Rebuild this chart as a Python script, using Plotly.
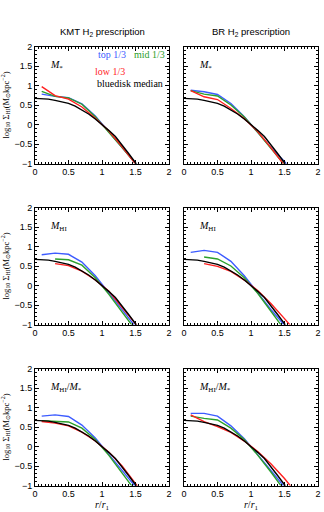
import plotly.graph_objects as go

# ---------------- data ----------------
col_titles = ["KMT H<sub>2</sub> prescription", "BR H<sub>2</sub> prescription"]
row_labels = ["<i>M</i><sub>*</sub>", "<i>M</i><sub>HI</sub>", "<i>M</i><sub>HI</sub>/<i>M</i><sub>*</sub>"]

x_ticks = [0, 0.5, 1, 1.5, 2]
y_ticks = [-1, -0.5, 0, 0.5, 1, 1.5, 2]

r_median = [0.0, 0.1, 0.2, 0.3, 0.4, 0.5, 0.6, 0.7, 0.8, 0.9, 1.0, 1.1, 1.2, 1.3, 1.4, 1.5, 1.6]
median = [0.67, 0.665, 0.65, 0.62, 0.585, 0.54, 0.47, 0.38, 0.27, 0.14, 0.0, -0.15, -0.31, -0.52, -0.75, -0.98, -1.22]

r_full = [0.1, 0.3, 0.5, 0.7, 0.9, 1.1, 1.3, 1.5, 1.7]
r_part = [0.3, 0.5, 0.7, 0.9, 1.1, 1.3, 1.5, 1.7]

# KMT, M*
kmt_ms_top = [0.78, 0.72, 0.69, 0.53, 0.22, -0.18, -0.58, -0.97, -1.4]
kmt_ms_mid = [0.85, 0.72, 0.68, 0.52, 0.20, -0.19, -0.59, -1.00, -1.4]
kmt_ms_low = [0.97, 0.74, 0.65, 0.45, 0.16, -0.16, -0.57, -1.03, -1.45]
# BR, M*
br_ms_top = [0.88, 0.84, 0.77, 0.54, 0.20, -0.20, -0.60, -0.95, -1.4]
br_ms_mid = [0.87, 0.78, 0.73, 0.50, 0.19, -0.20, -0.62, -1.05, -1.45]
br_ms_low = [0.87, 0.71, 0.64, 0.41, 0.15, -0.18, -0.60, -1.06, -1.5]
# KMT, MHI
kmt_hi_top = [0.79, 0.83, 0.80, 0.60, 0.25, -0.20, -0.62, -1.06, -1.5]
kmt_hi_mid = [0.68, 0.66, 0.52, 0.20, -0.22, -0.68, -1.15, -1.6]
kmt_hi_low = [0.56, 0.51, 0.37, 0.14, -0.14, -0.55, -0.97, -1.4]
# BR, MHI
br_hi_top = [0.85, 0.90, 0.85, 0.62, 0.25, -0.20, -0.62, -1.02, -1.45]
br_hi_mid = [0.73, 0.68, 0.50, 0.20, -0.20, -0.70, -1.15, -1.6]
br_hi_low = [0.56, 0.49, 0.36, 0.14, -0.13, -0.47, -0.85, -1.25]
# KMT, MHI/M*
kmt_rat_top = [0.78, 0.81, 0.77, 0.55, 0.22, -0.20, -0.60, -1.03, -1.45]
kmt_rat_mid = [0.66, 0.65, 0.63, 0.47, 0.18, -0.22, -0.68, -1.18, -1.6]
kmt_rat_low = [0.64, 0.60, 0.53, 0.37, 0.14, -0.14, -0.50, -0.95, -1.4]
# BR, MHI/M*
br_rat_top = [0.85, 0.85, 0.78, 0.53, 0.20, -0.20, -0.62, -1.04, -1.45]
br_rat_mid = [0.78, 0.72, 0.68, 0.47, 0.18, -0.22, -0.66, -1.14, -1.6]
br_rat_low = [0.81, 0.64, 0.51, 0.36, 0.14, -0.13, -0.45, -0.82, -1.25]

panels = [
    (r_full, kmt_ms_top, r_full, kmt_ms_mid, r_full, kmt_ms_low),
    (r_full, br_ms_top, r_full, br_ms_mid, r_full, br_ms_low),
    (r_full, kmt_hi_top, r_part, kmt_hi_mid, r_part, kmt_hi_low),
    (r_full, br_hi_top, r_part, br_hi_mid, r_part, br_hi_low),
    (r_full, kmt_rat_top, r_full, kmt_rat_mid, r_full, kmt_rat_low),
    (r_full, br_rat_top, r_full, br_rat_mid, r_full, br_rat_low),
]

# ---------------- styling ----------------
W, H = 324, 512
BLUE = "#3d5cff"
GREEN = "#2ca02c"
RED = "#ff1f1f"
SANS = "Liberation Sans, Arial, sans-serif"
SERIF = "Liberation Serif, Times New Roman, serif"

col_px = [(35, 169), (184, 318)]
row_px = [(46.5, 163.5), (207.5, 324.5), (368.5, 485.5)]

fig = go.Figure()
layout = dict(
    width=W, height=H, margin=dict(l=0, r=0, t=0, b=0),
    paper_bgcolor="white", plot_bgcolor="white", showlegend=False,
    font=dict(family=SANS, size=9, color="black"),
)
annotations = []

for i, (rt, yt, rm, ym, rl, yl) in enumerate(panels):
    row, col = divmod(i, 2)
    n = "" if i == 0 else str(i + 1)
    xa, ya = "x" + n, "y" + n
    x0, x1 = col_px[col]
    t, b = row_px[row]
    common = dict(
        showline=True, linecolor="black", linewidth=1, mirror="allticks",
        ticks="inside", ticklen=4, tickcolor="black", tickwidth=1,
        showgrid=False, zeroline=False, automargin=False,
        tickfont=dict(family=SANS, size=9, color="black"),
    )
    layout["xaxis" + n] = dict(
        common, domain=[x0 / W, x1 / W], range=[0, 2], anchor=ya,
        tickmode="array", tickvals=x_ticks, ticktext=[f"{v:g}" for v in x_ticks],
        minor=dict(ticks="inside", ticklen=2, dtick=0.05, tickcolor="black"),
        title=dict(text="<i>r</i>/<i>r</i><sub>1</sub>" if row == 2 else "",
                   font=dict(family=SERIF, size=10), standoff=2),
    )
    layout["yaxis" + n] = dict(
        common, domain=[1 - b / H, 1 - t / H], range=[-1, 2], anchor=xa,
        tickmode="array", tickvals=y_ticks,
        ticktext=[f"{v:g}".replace("-", "\u2212") for v in y_ticks],
        showticklabels=(col == 0),
        minor=dict(ticks="inside", ticklen=2, dtick=0.1, tickcolor="black"),
        title=dict(text="log<sub>10</sub> \u03a3<sub>HI</sub>(M<sub>\u2299</sub>kpc<sup>\u22122</sup>)" if col == 0 else "",
                   font=dict(family=SERIF, size=8.5), standoff=4),
    )
    for rr, yy, c in ((rt, yt, BLUE), (rm, ym, GREEN), (rl, yl, RED)):
        fig.add_trace(go.Scatter(x=rr, y=yy, mode="lines", xaxis=xa, yaxis=ya,
                                 line=dict(color=c, width=1.4), hoverinfo="skip"))
    fig.add_trace(go.Scatter(x=r_median, y=median, mode="lines", xaxis=xa, yaxis=ya,
                             line=dict(color="black", width=1.4), hoverinfo="skip"))
    annotations.append(dict(text=row_labels[row], x=0.2, y=1.52, xref=xa, yref=ya,
                            xanchor="left", yanchor="middle", showarrow=False,
                            font=dict(family=SERIF, size=10, color="black")))

# column titles
for col in range(2):
    x0, x1 = col_px[col]
    annotations.append(dict(text=col_titles[col], x=(x0 + x1) / 2 / W, y=1 - 32 / H,
                            xref="paper", yref="paper", xanchor="center", yanchor="middle",
                            showarrow=False, font=dict(family=SANS, size=9.5, color="black")))

# legend text in first panel
legend_items = [("top 1/3", BLUE, 1.39, 1.80), ("mid 1/3", GREEN, 1.97, 1.80),
                ("low 1/3", RED, 1.37, 1.35), ("bluedisk median", "black", 1.94, 1.06)]
for txt, c, lx, ly in legend_items:
    annotations.append(dict(text=txt, x=lx, y=ly, xref="x", yref="y",
                            xanchor="right", yanchor="middle", showarrow=False,
                            font=dict(family=SERIF, size=10, color=c)))

layout["annotations"] = annotations
fig.update_layout(**layout)
fig.write_html("out.html", config={"displayModeBar": False},
               post_script="document.body.style.margin='0';document.body.style.padding='0';")
